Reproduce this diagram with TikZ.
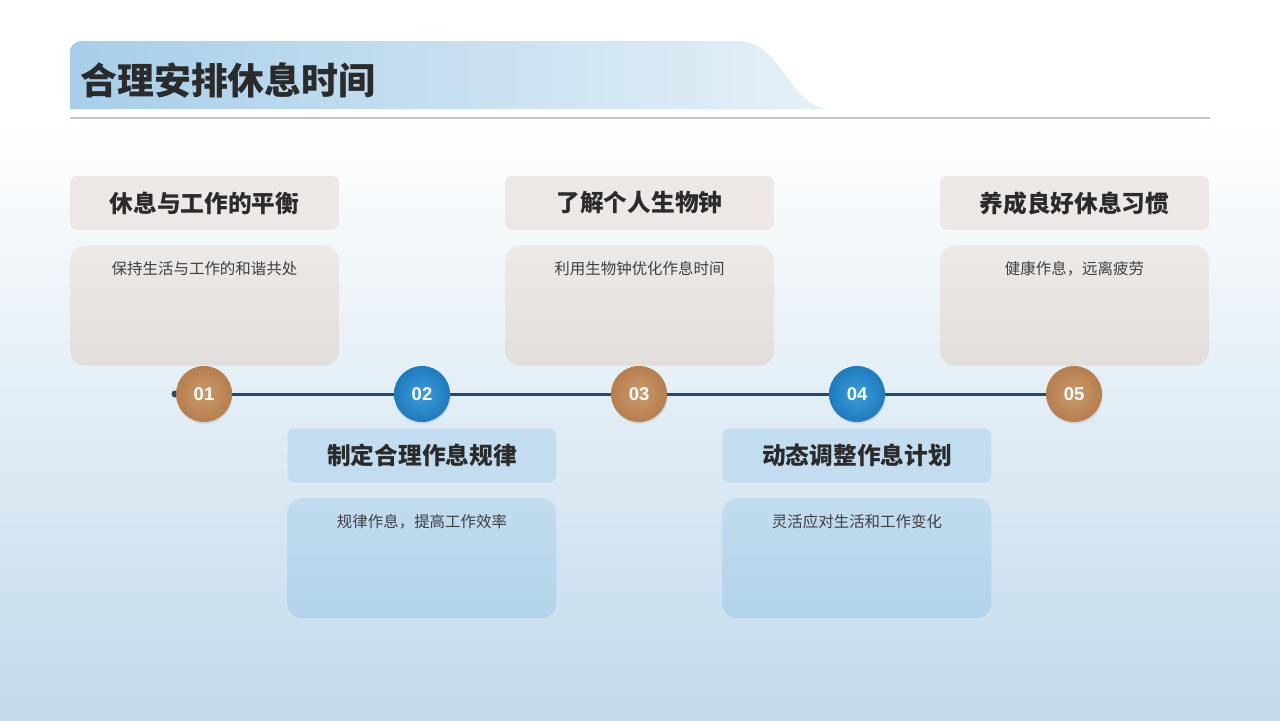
\documentclass[tikz,border=0pt]{standalone}
\usepackage{fontspec}
\setmainfont{Noto Sans CJK SC}
\newfontfamily\numfont{Liberation Sans}
\usepackage{xcolor}
\usetikzlibrary{positioning, backgrounds, shadows}
\definecolor{pageBlue}{HTML}{C2DAEB}
\definecolor{bannerBlue}{HTML}{A6CEE9}
\definecolor{bannerPale}{HTML}{E6F1F8}
\definecolor{ruleGrey}{HTML}{B6C6D2}
\definecolor{tanHead}{HTML}{EDE8E5}
\definecolor{tanTop}{HTML}{ECE9E7}
\definecolor{tanBot}{HTML}{E1DEDB}
\definecolor{skyHead}{HTML}{C3DDF0}
\definecolor{skyTop}{HTML}{C2DCEF}
\definecolor{skyBot}{HTML}{B2D3EA}
\definecolor{lineNavy}{HTML}{1F4B72}
\definecolor{ballTanIn}{HTML}{CA9A6E}
\definecolor{ballTanOut}{HTML}{B77D4D}
\definecolor{ballSkyIn}{HTML}{3C9DD9}
\definecolor{ballSkyOut}{HTML}{1E7BBE}
\definecolor{textDark}{HTML}{2B2B2B}
\definecolor{textGrey}{HTML}{3F3F3F}

\begin{document}
\begin{tikzpicture}[x=0.02cm, y=-0.02cm,
    node distance=0.3cm,
    head/.style={rounded corners=4pt, minimum width=5.38cm, minimum height=1.08cm,
      font=\bfseries\fontsize{13.5}{16}\selectfont, text=textDark},
    card/.style={rounded corners=8.5pt, minimum width=5.38cm, minimum height=2.4cm},
    cardtext/.style={font=\fontsize{8.8}{11}\selectfont, text=textGrey},
    ball/.style={circle, minimum size=1.12cm, inner sep=0pt, shading=radial,
      font=\numfont\bfseries\fontsize{10.5}{12}\selectfont, text=white,
      drop shadow={shadow xshift=0.4pt, shadow yshift=-1pt, opacity=0.2}},
    balltan/.style={ball, inner color=ballTanIn, outer color=ballTanOut},
    ballsky/.style={ball, inner color=ballSkyIn, outer color=ballSkyOut},
    timeline/.style={lineNavy, line width=1.7pt}]
  \useasboundingbox (0,0) rectangle (1280,720);
  % page and title banner
  \begin{scope}[on background layer]
    \fill[white] (0,0) rectangle (1280,120);
    \shade[top color=white, bottom color=pageBlue] (0,120) rectangle (1280,720);
    \shade[left color=bannerBlue, right color=bannerPale]
      (70,109) -- (70,53) .. controls (70,45) and (75,41) .. (83,41) -- (735,41)
      .. controls (785,41) and (785,105) .. (830,109) -- cycle;
    \draw[ruleGrey, line width=1pt] (70,118) -- (1210,118);
  \end{scope}
  \node[anchor=west, inner sep=0pt, font=\bfseries\fontsize{21}{24}\selectfont, text=textDark]
    (title) at (80,80) {合理安排休息时间};

  % timeline stops
  \foreach \i/\x in {1/204, 3/639, 5/1074}
    \node[balltan] (n\i) at (\x,394) {0\i};
  \foreach \i/\x in {2/422, 4/857}
    \node[ballsky] (n\i) at (\x,394) {0\i};
  \coordinate (start) at (175,394);
  \begin{scope}[on background layer]
    \draw[timeline] (start) -- (n5.center);
    \fill[lineNavy] (start) circle (3.5);
  \end{scope}

  % upper cards
  \foreach \i/\x/\head/\body in {1/204.5/休息与工作的平衡/保持生活与工作的和谐共处,
      3/639.5/了解个人生物钟/利用生物钟优化作息时间,
      5/1074.5/养成良好休息习惯/健康作息，远离疲劳} {
    \node[head, fill=tanHead] (h\i) at (\x,203) {\head};
    \node[card, top color=tanTop, bottom color=tanBot, below=of h\i,
      label={[cardtext, anchor=north, yshift=-0.2cm]north:\body}] (c\i) {};
  }
  % lower cards
  \foreach \i/\x/\head/\body in {2/422/制定合理作息规律/规律作息，提高工作效率,
      4/857/动态调整作息计划/灵活应对生活和工作变化} {
    \node[head, fill=skyHead] (h\i) at (\x,455.5) {\head};
    \node[card, top color=skyTop, bottom color=skyBot, below=of h\i,
      label={[cardtext, anchor=north, yshift=-0.2cm]north:\body}] (c\i) {};
  }
\end{tikzpicture}
\end{document}
